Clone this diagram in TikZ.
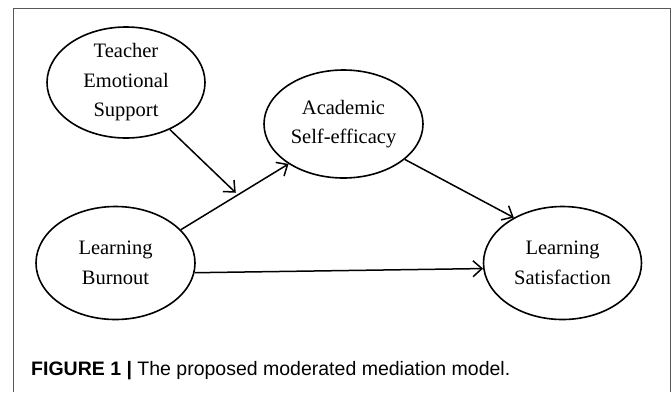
\documentclass[tikz,border=0pt]{standalone}
\usepackage{fontspec}
\setmainfont{Liberation Serif}
\newfontfamily\capfont{Liberation Sans}
\usetikzlibrary{shapes.geometric,arrows.meta}
\tikzset{
  var/.style={ellipse, draw, line width=1.6pt, inner sep=0pt, align=center,
    font=\fontsize{20.5}{29.5}\selectfont},
  arr/.style={line width=1.5pt, -{Straight Barb[length=9pt,width=16pt,line width=1.5pt]}},
  frame/.style={draw=black!65, line width=1.5pt}
}
\begin{document}
\begin{tikzpicture}[x=1pt,y=-1pt]
\useasboundingbox (0,0) rectangle (672,392);
\draw[frame] (13.3,392) -- (13.3,8.7) -- (670.3,8.7) -- (670.3,392);
\node[var, minimum width=158pt, minimum height=111pt] (tes) at (126,82.5) {Teacher\\Emotional\\Support};
\node[var, minimum width=159pt, minimum height=108pt] (ase) at (343.5,124) {Academic\\Self-efficacy};
\node[var, minimum width=159pt, minimum height=113pt] (lb) at (115.5,263) {Learning\\Burnout};
\node[var, minimum width=158pt, minimum height=113pt] (ls) at (562.5,263) {Learning\\Satisfaction};
\draw[arr] (lb.27) -- coordinate[pos=0.53] (m) (ase.216);
\draw[arr, shorten >=3pt] (tes.-47) -- (m);
\draw[arr] (ase.-30) -- (ls.137);
\draw[arr] (lb.-7) -- (ls.184);
\node[anchor=base west, inner sep=0pt, font=\capfont\fontsize{19.5}{21}\selectfont] (cap) at (31,375)
  {\textbf{FIGURE 1 |} The proposed moderated mediation model.};
\end{tikzpicture}
\end{document}
